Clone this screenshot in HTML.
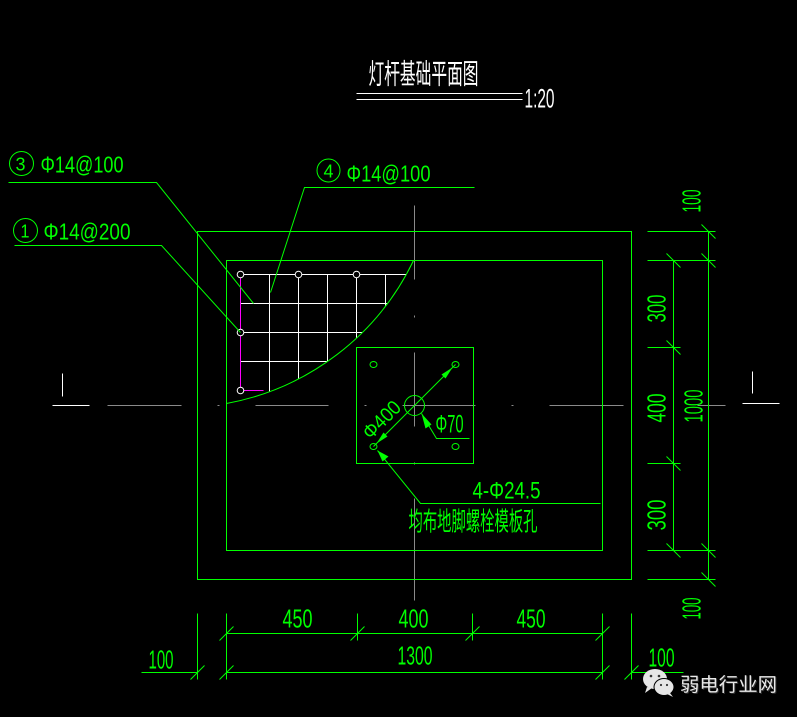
<!DOCTYPE html>
<html><head><meta charset="utf-8">
<style>
html,body{margin:0;padding:0;background:#000;}
svg{display:block;}
text{font-family:"Liberation Sans Narrow","Liberation Sans","Noto Sans CJK SC",sans-serif;}
.cjk{font-family:"Liberation Sans","Noto Sans CJK SC",sans-serif;}
</style></head>
<body>
<svg width="797" height="717" viewBox="0 0 797 717" xmlns="http://www.w3.org/2000/svg">
<rect width="797" height="717" fill="#000"/>
<defs>
<clipPath id="arcclip"><circle cx="179" cy="148" r="259.3"/></clipPath>
</defs>
<g transform="translate(0.5,0.5)" fill="none" stroke-width="1">
<!-- title -->
<text class="cjk" x="368" y="83" font-size="28" fill="#fff" stroke="none" textLength="110" lengthAdjust="spacingAndGlyphs">灯杆基础平面图</text>
<line x1="356" y1="93" x2="522" y2="93" stroke="#fff"/>
<line x1="356" y1="99" x2="522" y2="99" stroke="#fff"/>
<text x="524" y="107" font-size="27" fill="#fff" stroke="none" textLength="30" lengthAdjust="spacingAndGlyphs">1:20</text>

<!-- center lines (gray) -->
<g stroke="#8a8a8a">
<line x1="107" y1="405" x2="181" y2="405"/><line x1="217" y1="405" x2="219" y2="405"/>
<line x1="255" y1="405" x2="328" y2="405"/><line x1="364" y1="405" x2="366" y2="405"/>
<line x1="402" y1="405" x2="475" y2="405"/><line x1="511" y1="405" x2="513" y2="405"/>
<line x1="549" y1="405" x2="623" y2="405"/><line x1="659" y1="405" x2="661" y2="405"/>
<line x1="697" y1="405" x2="725" y2="405"/>
<line x1="414" y1="205" x2="414" y2="279"/><line x1="414" y1="315" x2="414" y2="317"/>
<line x1="414" y1="352" x2="414" y2="426"/><line x1="414" y1="462" x2="414" y2="464"/>
<line x1="414" y1="498" x2="414" y2="600"/>
</g>

<!-- section marks -->
<g stroke="#fff">
<line x1="62" y1="373" x2="62" y2="396"/><line x1="52" y1="405" x2="89" y2="405"/>
<line x1="752" y1="371" x2="752" y2="393"/><line x1="742" y1="403" x2="779" y2="403"/>
</g>

<!-- rectangles -->
<g stroke="#00ff00">
<rect x="197" y="231" width="434" height="348"/>
<rect x="226" y="260" width="376" height="290"/>
<rect x="356" y="347" width="117" height="116"/>
</g>

<!-- rebar grid -->
<g clip-path="url(#arcclip)" stroke="#fff">
<line x1="240" y1="274" x2="420" y2="274"/>
<line x1="240" y1="303" x2="420" y2="303"/>
<line x1="240" y1="332" x2="420" y2="332"/>
<line x1="240" y1="361" x2="420" y2="361"/>
<line x1="269" y1="274" x2="269" y2="400"/>
<line x1="298" y1="274" x2="298" y2="400"/>
<line x1="327" y1="274" x2="327" y2="400"/>
<line x1="356" y1="274" x2="356" y2="400"/>
<line x1="385" y1="274" x2="385" y2="400"/>
</g>
<g stroke="#ff00ff">
<line x1="240" y1="274" x2="240" y2="390"/>
<line x1="240" y1="390" x2="263" y2="390"/>
</g>
<path d="M226,403 A259.3,259.3 0 0 0 413,260" stroke="#00ff00"/>
<g stroke="#fff" fill="#000">
<circle cx="240" cy="274" r="3.3"/><circle cx="298" cy="274" r="3.3"/><circle cx="356" cy="274" r="3.3"/>
<circle cx="240" cy="332" r="3.3"/><circle cx="240" cy="390" r="3.3"/>
</g>

<!-- leaders and labels -->
<g stroke="#00ff00">
<polyline points="8,182 156,182 253,303"/>
<polyline points="14,245 161,245 240,332"/>
<polyline points="474,187 304,187 270,292"/>
<circle cx="21" cy="163" r="12"/>
<circle cx="25" cy="230" r="12"/>
<circle cx="328" cy="170" r="11.5"/>
</g>
<g fill="#00ff00" stroke="none">
<text x="15" y="170" font-size="18" textLength="10" lengthAdjust="spacingAndGlyphs">3</text>
<text x="20" y="237" font-size="18" textLength="9" lengthAdjust="spacingAndGlyphs">1</text>
<text x="323" y="177" font-size="18" textLength="10" lengthAdjust="spacingAndGlyphs">4</text>
<text x="40" y="172" font-size="23" textLength="83" lengthAdjust="spacingAndGlyphs">Φ14@100</text>
<text x="43" y="239" font-size="23" textLength="87" lengthAdjust="spacingAndGlyphs">Φ14@200</text>
<text x="346" y="181" font-size="23" textLength="84" lengthAdjust="spacingAndGlyphs">Φ14@100</text>
</g>

<!-- base plate details -->
<g stroke="#00ff00">
<ellipse cx="373" cy="364" rx="3.5" ry="3"/>
<ellipse cx="455" cy="364" rx="3.5" ry="3"/>
<ellipse cx="373" cy="446" rx="3.5" ry="3"/>
<ellipse cx="455" cy="446" rx="3.5" ry="3"/>
<circle cx="414" cy="405" r="10"/>
<line x1="373" y1="446" x2="455" y2="364"/>
<polyline points="421,413 436,438 469,438"/>
<polyline points="377,450 420,503 600,503"/>
</g>
<g fill="#00ff00" stroke="none">
<polygon points="452,367 441,374 445,378"/>
<polygon points="376,443 387,436 383,432"/>
<polygon points="421,413 425,428 431,424"/>
<polygon points="377,450 382,461 388,456"/>
<text transform="translate(370,440) rotate(-45)" font-size="20" textLength="45" lengthAdjust="spacingAndGlyphs">Φ400</text>
<text x="435" y="432" font-size="25" textLength="28" lengthAdjust="spacingAndGlyphs">Φ70</text>
<text x="472" y="498" font-size="24" textLength="68" lengthAdjust="spacingAndGlyphs">4-Φ24.5</text>
<text class="cjk" x="408" y="530" font-size="26" textLength="129" lengthAdjust="spacingAndGlyphs">均布地脚螺栓模板孔</text>
</g>

<!-- bottom dimensions -->
<g stroke="#00ff00">
<line x1="197" y1="613" x2="197" y2="679"/>
<line x1="226" y1="613" x2="226" y2="679"/>
<line x1="357" y1="613" x2="357" y2="640"/>
<line x1="472" y1="613" x2="472" y2="640"/>
<line x1="602" y1="613" x2="602" y2="679"/>
<line x1="631" y1="613" x2="631" y2="679"/>
<line x1="226" y1="633" x2="602" y2="633"/>
<line x1="226" y1="672" x2="602" y2="672"/>
<line x1="141" y1="672" x2="197" y2="672"/>
<line x1="631" y1="672" x2="683" y2="672"/>
<g>
<line x1="219" y1="640" x2="233" y2="626"/>
<line x1="350" y1="640" x2="364" y2="626"/>
<line x1="465" y1="640" x2="479" y2="626"/>
<line x1="595" y1="640" x2="609" y2="626"/>
<line x1="219" y1="679" x2="233" y2="665"/>
<line x1="595" y1="679" x2="609" y2="665"/>
<line x1="190" y1="679" x2="204" y2="665"/>
<line x1="624" y1="679" x2="638" y2="665"/>
</g>
</g>
<g fill="#00ff00" stroke="none" font-size="26">
<text x="282" y="627" textLength="30" lengthAdjust="spacingAndGlyphs">450</text>
<text x="398" y="627" textLength="30" lengthAdjust="spacingAndGlyphs">400</text>
<text x="516" y="627" textLength="29" lengthAdjust="spacingAndGlyphs">450</text>
<text x="397" y="664" textLength="35" lengthAdjust="spacingAndGlyphs">1300</text>
<text x="148" y="668" textLength="25" lengthAdjust="spacingAndGlyphs">100</text>
<text x="648" y="666" textLength="26" lengthAdjust="spacingAndGlyphs">100</text>
</g>

<!-- right dimensions -->
<g stroke="#00ff00">
<line x1="647" y1="231" x2="715" y2="231"/>
<line x1="647" y1="260" x2="715" y2="260"/>
<line x1="647" y1="347" x2="680" y2="347"/>
<line x1="647" y1="463" x2="680" y2="463"/>
<line x1="647" y1="550" x2="715" y2="550"/>
<line x1="647" y1="579" x2="715" y2="579"/>
<line x1="673" y1="260" x2="673" y2="550"/>
<line x1="708" y1="231" x2="708" y2="579"/>
<line x1="701" y1="224" x2="715" y2="238"/>
<line x1="701" y1="253" x2="715" y2="267"/>
<line x1="701" y1="543" x2="715" y2="557"/>
<line x1="701" y1="572" x2="715" y2="586"/>
<line x1="666" y1="253" x2="680" y2="267"/>
<line x1="666" y1="340" x2="680" y2="354"/>
<line x1="666" y1="456" x2="680" y2="470"/>
<line x1="666" y1="543" x2="680" y2="557"/>
</g>
<g fill="#00ff00" stroke="none" font-size="26">
<text transform="translate(700,212) rotate(-90)" textLength="23" lengthAdjust="spacingAndGlyphs">100</text>
<text transform="translate(665,322) rotate(-90)" textLength="28" lengthAdjust="spacingAndGlyphs">300</text>
<text transform="translate(665,422) rotate(-90)" textLength="29" lengthAdjust="spacingAndGlyphs">400</text>
<text transform="translate(702,422) rotate(-90)" textLength="33" lengthAdjust="spacingAndGlyphs">1000</text>
<text transform="translate(665,530) rotate(-90)" textLength="31" lengthAdjust="spacingAndGlyphs">300</text>
<text transform="translate(700,619) rotate(-90)" textLength="22" lengthAdjust="spacingAndGlyphs">100</text>
</g>
</g>

<!-- watermark -->
<g>
<ellipse cx="655" cy="679" rx="12" ry="10" fill="#e6e6e6"/>
<path d="M647,687 L645,693 L652,688 Z" fill="#e6e6e6"/>
<ellipse cx="664" cy="687" rx="10.5" ry="9" fill="#000"/>
<ellipse cx="664" cy="687" rx="9.5" ry="8" fill="#e6e6e6"/>
<path d="M670,693 L673,697 L667,694 Z" fill="#e6e6e6"/>
<circle cx="651" cy="676" r="1.3" fill="#333"/>
<circle cx="659" cy="676" r="1.3" fill="#333"/>
<circle cx="661" cy="685" r="1.1" fill="#333"/>
<circle cx="667" cy="685" r="1.1" fill="#333"/>
<text class="cjk" x="681" y="692" font-size="19" fill="#333" textLength="97" lengthAdjust="spacingAndGlyphs">弱电行业网</text>
<text class="cjk" x="680" y="691" font-size="19" fill="#e8e8e8" textLength="97" lengthAdjust="spacingAndGlyphs">弱电行业网</text>
</g>
</svg>
</body></html>
